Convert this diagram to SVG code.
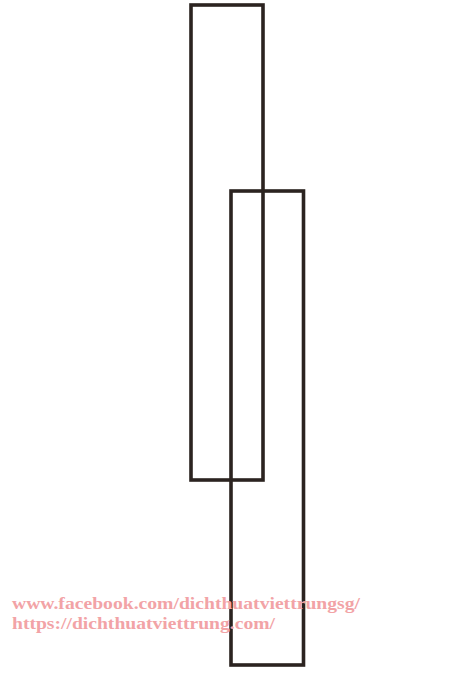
<svg xmlns="http://www.w3.org/2000/svg" width="449" height="675" viewBox="0 0 449 675">
<style>
.bar{fill:none;stroke:#2b2320;stroke-width:3.6}
.wm{font-family:"Liberation Serif",serif;font-weight:bold;font-size:16px;fill:#f2a3a6}
</style>
<rect width="449" height="675" fill="#ffffff"/>
<g id="rect-upper"><rect class="bar" x="191" y="5" width="72" height="475"/></g>
<g id="rect-lower"><rect class="bar" x="231" y="191" width="72.5" height="474"/></g>
<g id="watermark">
<text class="wm" x="12" y="609" textLength="348" lengthAdjust="spacingAndGlyphs">www.facebook.com/dichthuatviettrungsg/</text>
<text class="wm" x="12" y="629" textLength="263" lengthAdjust="spacingAndGlyphs">https://dichthuatviettrung.com/</text>
</g>
</svg>
